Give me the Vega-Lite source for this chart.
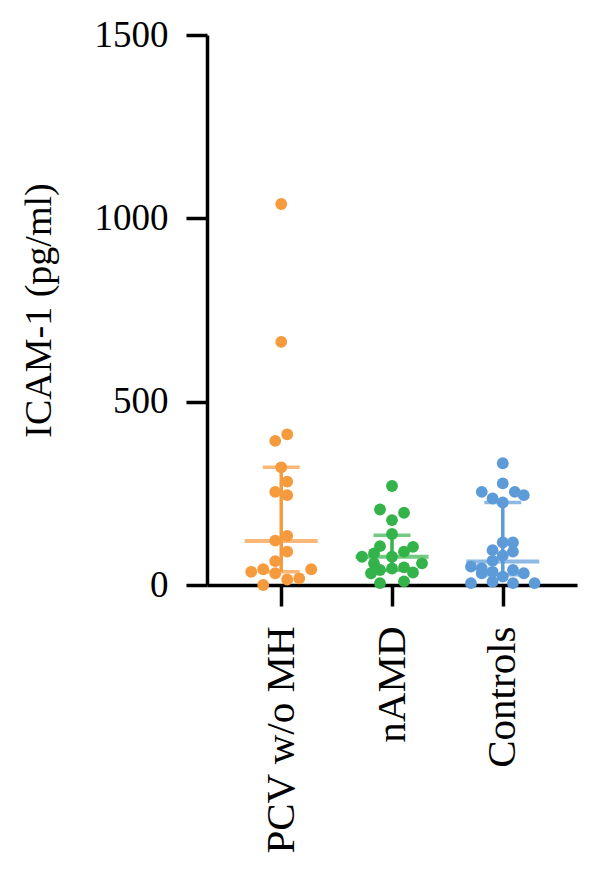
{
  "$schema": "https://vega.github.io/schema/vega-lite/v6.json",
  "autosize": "none",
  "width": 370,
  "height": 550,
  "padding": {"left": 207, "top": 35, "right": 23, "bottom": 291},
  "background": "white",
  "config": {
    "view": {"stroke": null},
    "font": "Liberation Serif",
    "axis": {
      "grid": false,
      "domainColor": "black",
      "domainWidth": 3.5,
      "tickColor": "black",
      "tickWidth": 3.5,
      "tickSize": 21,
      "labelFont": "Liberation Serif",
      "labelFontSize": 37,
      "labelColor": "black",
      "titleFont": "Liberation Serif",
      "titleFontSize": 38,
      "titleFontWeight": "normal",
      "titleColor": "black"
    }
  },
  "datasets": {
    "pts": [
      {"group": "PCV w/o MH", "value": 1039, "j": 0},
      {"group": "PCV w/o MH", "value": 663, "j": 0},
      {"group": "PCV w/o MH", "value": 411, "j": 1},
      {"group": "PCV w/o MH", "value": 393, "j": -1},
      {"group": "PCV w/o MH", "value": 321, "j": 0},
      {"group": "PCV w/o MH", "value": 282, "j": 1},
      {"group": "PCV w/o MH", "value": 254, "j": -1},
      {"group": "PCV w/o MH", "value": 245, "j": 1},
      {"group": "PCV w/o MH", "value": 134, "j": 1},
      {"group": "PCV w/o MH", "value": 121, "j": -1},
      {"group": "PCV w/o MH", "value": 91, "j": 1},
      {"group": "PCV w/o MH", "value": 65, "j": -1},
      {"group": "PCV w/o MH", "value": 43, "j": -3},
      {"group": "PCV w/o MH", "value": 36, "j": -5},
      {"group": "PCV w/o MH", "value": 32, "j": -1},
      {"group": "PCV w/o MH", "value": 15, "j": 1},
      {"group": "PCV w/o MH", "value": 18, "j": 3},
      {"group": "PCV w/o MH", "value": 43, "j": 5},
      {"group": "PCV w/o MH", "value": 0, "j": -3},
      {"group": "nAMD", "value": 270, "j": 0},
      {"group": "nAMD", "value": 206, "j": -2},
      {"group": "nAMD", "value": 197, "j": 2},
      {"group": "nAMD", "value": 177, "j": 0},
      {"group": "nAMD", "value": 139, "j": 0},
      {"group": "nAMD", "value": 106, "j": -2},
      {"group": "nAMD", "value": 104, "j": 3.5},
      {"group": "nAMD", "value": 91, "j": 2},
      {"group": "nAMD", "value": 86, "j": -3},
      {"group": "nAMD", "value": 77, "j": -5},
      {"group": "nAMD", "value": 77, "j": 0},
      {"group": "nAMD", "value": 59, "j": 5},
      {"group": "nAMD", "value": 59, "j": -3},
      {"group": "nAMD", "value": 45, "j": 0},
      {"group": "nAMD", "value": 41, "j": -2},
      {"group": "nAMD", "value": 48, "j": 2},
      {"group": "nAMD", "value": 34, "j": 3.5},
      {"group": "nAMD", "value": 32, "j": -3.5},
      {"group": "nAMD", "value": 5, "j": -2},
      {"group": "nAMD", "value": 10, "j": 2},
      {"group": "Controls", "value": 332, "j": 0},
      {"group": "Controls", "value": 277, "j": 0},
      {"group": "Controls", "value": 254, "j": -3.5},
      {"group": "Controls", "value": 254, "j": 2},
      {"group": "Controls", "value": 245, "j": 3.5},
      {"group": "Controls", "value": 236, "j": -1.7},
      {"group": "Controls", "value": 225, "j": 0},
      {"group": "Controls", "value": 116, "j": 0},
      {"group": "Controls", "value": 116, "j": 1.7},
      {"group": "Controls", "value": 95, "j": -1.7},
      {"group": "Controls", "value": 91, "j": 1.7},
      {"group": "Controls", "value": 80, "j": 0},
      {"group": "Controls", "value": 66, "j": -1.7},
      {"group": "Controls", "value": 50, "j": -5.3},
      {"group": "Controls", "value": 45, "j": -3.5},
      {"group": "Controls", "value": 41, "j": 1.7},
      {"group": "Controls", "value": 36, "j": -1.7},
      {"group": "Controls", "value": 32, "j": -3.5},
      {"group": "Controls", "value": 32, "j": 3.5},
      {"group": "Controls", "value": 23, "j": 0},
      {"group": "Controls", "value": 9, "j": -1.7},
      {"group": "Controls", "value": 5, "j": -5.3},
      {"group": "Controls", "value": 5, "j": 1.7},
      {"group": "Controls", "value": 5, "j": 5.3}
    ],
    "summary": [
      {"group": "PCV w/o MH", "median": 120, "q1": 36, "q3": 321},
      {"group": "nAMD", "median": 77, "q1": 40, "q3": 136},
      {"group": "Controls", "median": 64, "q1": 28, "q3": 225}
    ]
  },
  "encoding": {
    "x": {
      "field": "group",
      "type": "nominal",
      "sort": ["PCV w/o MH", "nAMD", "Controls"],
      "scale": {"type": "point", "padding": 0.67},
      "axis": {"title": null, "labelAngle": 270, "labelAlign": "right", "labelBaseline": "middle", "labelPadding": 20, "labelFontSize": 41, "labelLimit": 0}
    },
    "color": {
      "field": "group",
      "type": "nominal",
      "scale": {"domain": ["PCV w/o MH", "nAMD", "Controls"], "range": ["#F69A3E", "#34B34A", "#5D9BD8"]},
      "legend": null
    }
  },
  "layer": [
    {
      "data": {"name": "summary"},
      "mark": {"type": "rule", "strokeWidth": 3.5},
      "encoding": {
        "y": {"field": "q1", "type": "quantitative", "scale": {"domain": [0, 1500], "nice": false},
          "axis": {"values": [0, 500, 1000, 1500], "format": "d", "title": "ICAM-1 (pg/ml)", "labelPadding": 18, "titlePadding": 36}},
        "y2": {"field": "q3"}
      }
    },
    {
      "data": {"name": "summary"},
      "mark": {"type": "tick", "orient": "horizontal", "size": 73, "thickness": 4},
      "encoding": {"y": {"field": "median", "type": "quantitative"}}
    },
    {
      "data": {"name": "summary"},
      "mark": {"type": "tick", "orient": "horizontal", "size": 37, "thickness": 3.5},
      "encoding": {"y": {"field": "q1", "type": "quantitative"}}
    },
    {
      "data": {"name": "summary"},
      "mark": {"type": "tick", "orient": "horizontal", "size": 37, "thickness": 3.5},
      "encoding": {"y": {"field": "q3", "type": "quantitative"}}
    },
    {
      "data": {"name": "pts"},
      "mark": {"type": "circle", "size": 140, "opacity": 1},
      "encoding": {
        "y": {"field": "value", "type": "quantitative"},
        "xOffset": {"field": "j", "type": "quantitative", "scale": {"domain": [-6, 6], "range": [-36, 36]}}
      }
    }
  ]
}
